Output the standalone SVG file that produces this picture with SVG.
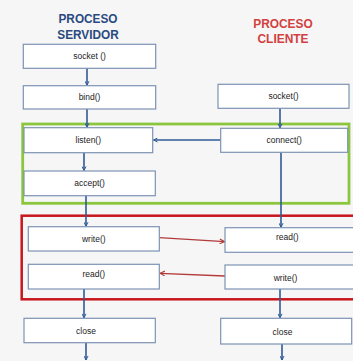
<svg xmlns="http://www.w3.org/2000/svg" width="353" height="361" viewBox="0 0 353 361">
<style>
.box{fill:#fff;stroke:#7d93b4;stroke-width:1.2}
.lbl{font-family:"Liberation Sans",Arial,sans-serif;font-size:8.5px;fill:#222;text-anchor:middle}
.hd{font-family:"Liberation Sans",Arial,sans-serif;font-size:13.5px;font-weight:bold;text-anchor:middle}
.flow{fill:none;stroke:#2f5b97;stroke-width:1.6;marker-end:url(#ab)}
.rflow{fill:none;stroke:#b23a3a;stroke-width:1.3;marker-end:url(#ar)}
</style>
<defs>
<marker id="ab" viewBox="0 0 10 10" refX="9" refY="5" markerWidth="5" markerHeight="5" orient="auto" markerUnits="userSpaceOnUse"><path d="M1,1 L9,5 L1,9" fill="none" stroke="#2f5b97" stroke-width="2"/></marker>
<marker id="ar" viewBox="0 0 10 10" refX="9" refY="5" markerWidth="6" markerHeight="6" orient="auto" markerUnits="userSpaceOnUse"><path d="M1,1 L9,5 L1,9" fill="none" stroke="#b23a3a" stroke-width="1.8"/></marker>
</defs>
<rect width="353" height="361" fill="#f6f6f6"/>
<text class="hd" x="88" y="23" fill="#2a4a80" textLength="59" lengthAdjust="spacingAndGlyphs">PROCESO</text>
<text class="hd" x="88" y="38.5" fill="#2a4a80" textLength="61.5" lengthAdjust="spacingAndGlyphs">SERVIDOR</text>
<text class="hd" x="283" y="28.3" fill="#d2403f" textLength="59.5" lengthAdjust="spacingAndGlyphs">PROCESO</text>
<text class="hd" x="283" y="42.5" fill="#d2403f" textLength="51" lengthAdjust="spacingAndGlyphs">CLIENTE</text>
<rect x="22.7" y="124" width="326.3" height="79.3" fill="none" stroke="#8cc63f" stroke-width="2.8"/>
<rect x="21.7" y="215.7" width="340" height="83.6" fill="none" stroke="#c8161d" stroke-width="2.5"/>
<g id="connectors">
<path class="flow" d="M87,68.3 V85.2"/>
<path class="flow" d="M87,109 V127.2"/>
<path class="flow" d="M84,152.7 V170.5"/>
<path class="flow" d="M86,195.7 V226.2"/>
<path class="flow" d="M84,289 V317.8"/>
<path class="flow" d="M86,342.7 V360"/>
<path class="flow" d="M280,108.3 V127.8"/>
<path class="flow" d="M281,152.3 V227.2"/>
<path class="flow" d="M280,289 V317.8"/>
<path class="flow" d="M282,344 V360"/>
<path class="flow" d="M220.7,140 H153.5"/>
<path class="rflow" d="M159.3,237.7 L224.5,241.7"/>
<path class="rflow" d="M225,276 L160,273.3"/>
</g>
<g id="srv-socket"><rect class="box" x="23.3" y="44.3" width="132.4" height="24"/><text class="lbl" x="89.5" y="59.3">socket ()</text></g>
<g id="srv-bind"><rect class="box" x="23.3" y="85.7" width="132.4" height="23.3"/><text class="lbl" x="89.5" y="100.3">bind()</text></g>
<g id="cli-socket"><rect class="box" x="218" y="84.3" width="131" height="24"/><text class="lbl" x="283.5" y="99.3">socket()</text></g>
<g id="srv-listen"><rect class="box" x="24" y="127.7" width="128.7" height="25"/><text class="lbl" x="88.3" y="143.2">listen()</text></g>
<g id="cli-connect"><rect class="box" x="220.7" y="128.3" width="127" height="24"/><text class="lbl" x="284.2" y="143.3">connect()</text></g>
<g id="srv-accept"><rect class="box" x="24" y="171" width="131.3" height="24.7"/><text class="lbl" x="89.6" y="186.3">accept()</text></g>
<g id="srv-write"><rect class="box" x="28.3" y="226.7" width="131" height="24.3"/><text class="lbl" x="93.8" y="242">write()</text></g>
<g id="srv-read"><rect class="box" x="28.3" y="264.3" width="131" height="24.7"/><text class="lbl" x="93.8" y="276.6">read()</text></g>
<g id="cli-read"><rect class="box" x="225" y="227.7" width="131" height="24.6"/><text class="lbl" x="287.3" y="240.2">read()</text></g>
<g id="cli-write"><rect class="box" x="225" y="265" width="131" height="24"/><text class="lbl" x="285.5" y="280.7">write()</text></g>
<g id="srv-close"><rect class="box" x="24" y="318.3" width="131.3" height="24.4"/><text class="lbl" x="86" y="333.5">close</text></g>
<g id="cli-close"><rect class="box" x="220.7" y="318.3" width="131" height="25.7"/><text class="lbl" x="282.5" y="334.5">close</text></g>
</svg>
